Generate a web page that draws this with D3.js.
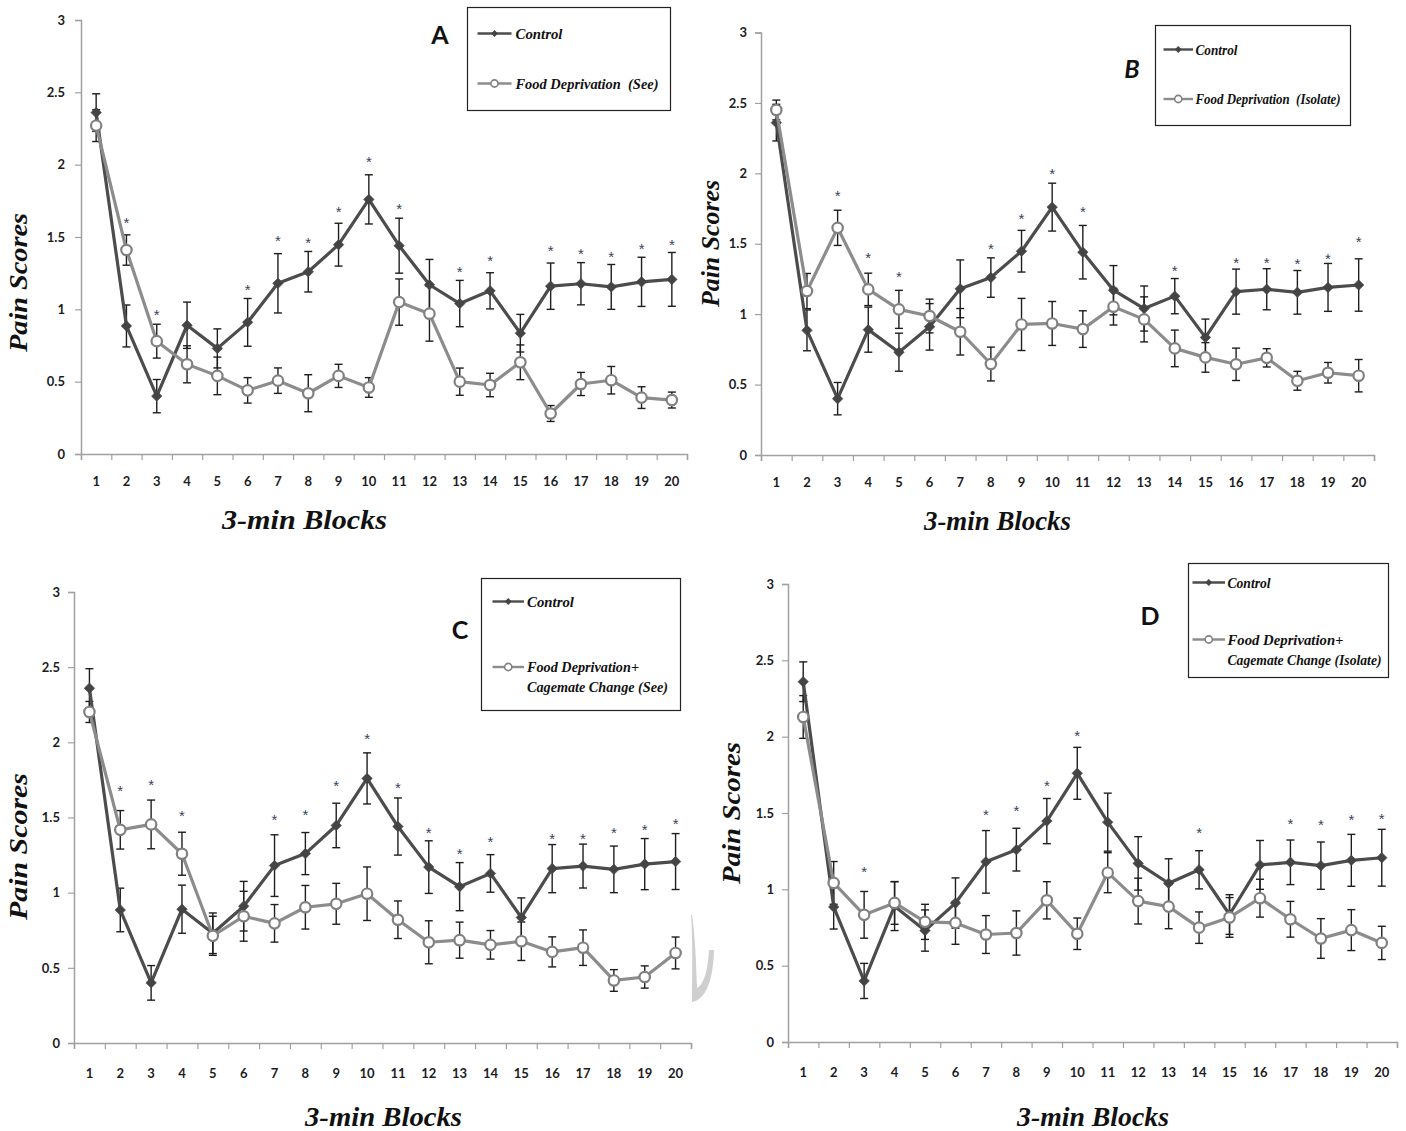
<!DOCTYPE html>
<html>
<head>
<meta charset="utf-8">
<script src="https://cdn.jsdelivr.net/npm/d3@7"></script>
<style>
  html, body { margin: 0; padding: 0; background: #fff; }
  svg { display: block; }
  .tick text { font-family: Lato, "Open Sans", sans-serif; font-weight: 700; font-size: 13px; fill: #1c1c24; }
  .legtxt { white-space: pre; }
</style>
</head>
<body>
<svg id="fig" width="1406" height="1131"></svg>
<script>
// 3-min blocks along the x axis
const blocks = [1, 2, 3, 4, 5, 6, 7, 8, 9, 10, 11, 12, 13, 14, 15, 16, 17, 18, 19, 20];
const yTicks = [0, 0.5, 1, 1.5, 2, 2.5, 3];

// Control group (same in every panel): mean pain score and SEM
const controlMean = [2.36, 0.885, 0.40, 0.89, 0.73, 0.91, 1.18, 1.26, 1.447, 1.76, 1.44, 1.17, 1.04, 1.128, 0.835, 1.16, 1.177, 1.155, 1.19, 1.207];
const controlErr  = [0.13, 0.145, 0.115, 0.16, 0.135, 0.165, 0.205, 0.14, 0.148, 0.17, 0.19, 0.175, 0.16, 0.125, 0.13, 0.16, 0.146, 0.155, 0.17, 0.186];

// A: Food Deprivation (See)
const fdSeeMean = [2.27, 1.41, 0.78, 0.62, 0.54, 0.44, 0.507, 0.42, 0.54, 0.46, 1.05, 0.97, 0.50, 0.477, 0.634, 0.28, 0.484, 0.51, 0.39, 0.373];
const fdSeeErr  = [0.11, 0.105, 0.117, 0.128, 0.13, 0.088, 0.088, 0.128, 0.08, 0.068, 0.16, 0.19, 0.094, 0.081, 0.12, 0.055, 0.08, 0.095, 0.075, 0.055];

// B: Food Deprivation (Isolate)
const fdIsoMean = [2.45, 1.164, 1.613, 1.176, 1.034, 0.987, 0.875, 0.646, 0.927, 0.934, 0.894, 1.053, 0.963, 0.757, 0.693, 0.644, 0.69, 0.527, 0.584, 0.563];
const fdIsoErr  = [0.07, 0.125, 0.125, 0.115, 0.135, 0.12, 0.165, 0.12, 0.185, 0.156, 0.13, 0.13, 0.16, 0.13, 0.105, 0.115, 0.065, 0.067, 0.073, 0.115];

// C: Food Deprivation + Cagemate Change (See)
const fdccSeeMean = [2.202, 1.418, 1.454, 1.259, 0.713, 0.843, 0.796, 0.903, 0.926, 0.993, 0.82, 0.67, 0.684, 0.653, 0.677, 0.606, 0.634, 0.416, 0.439, 0.599];
const fdccSeeErr  = [0.07, 0.128, 0.162, 0.143, 0.13, 0.166, 0.125, 0.145, 0.136, 0.178, 0.125, 0.143, 0.12, 0.095, 0.128, 0.1, 0.118, 0.072, 0.074, 0.106];

// D: Food Deprivation + Cagemate Change (Isolate)
const fdccIsoMean = [2.129, 1.042, 0.833, 0.911, 0.787, 0.78, 0.704, 0.714, 0.928, 0.709, 1.109, 0.923, 0.887, 0.749, 0.816, 0.942, 0.804, 0.678, 0.733, 0.649];
const fdccIsoErr  = [0.14, 0.14, 0.153, 0.14, 0.115, 0.14, 0.124, 0.145, 0.122, 0.103, 0.131, 0.15, 0.145, 0.103, 0.13, 0.124, 0.117, 0.13, 0.134, 0.109];

// significance markers: [block, height on the score axis]
const starsA = [[2,1.62],[3,0.988],[6,1.16],[7,1.495],[8,1.486],[9,1.70],[10,2.04],[11,1.72],[13,1.28],[14,1.36],[16,1.426],[17,1.41],[18,1.386],[19,1.44],[20,1.47]];
const starsB = [[3,1.864],[4,1.426],[5,1.289],[8,1.485],[9,1.699],[10,2.023],[11,1.75],[14,1.332],[16,1.39],[17,1.39],[18,1.38],[19,1.42],[20,1.538]];
const starsC = [[2,1.698],[3,1.741],[4,1.532],[7,1.508],[8,1.539],[9,1.731],[10,2.048],[11,1.722],[12,1.42],[13,1.278],[14,1.359],[16,1.378],[17,1.382],[18,1.42],[19,1.442],[20,1.477]];
const starsD = [[3,1.137],[7,1.513],[8,1.534],[9,1.703],[10,2.029],[14,1.392],[17,1.451],[18,1.442],[19,1.475],[20,1.482]];

const legendLabels = {
  A: ["Food Deprivation  (See)"],
  B: ["Food Deprivation  (Isolate)"],
  C: ["Food Deprivation+", "Cagemate Change (See)"],
  D: ["Food Deprivation+", "Cagemate Change (Isolate)"]
};

const panels = [
  { letter: "A", italic: false, x0: 81, x1: 687, yTop: 20, yBot: 454, lblOff: 16, xLblOff: 30,
    mean: fdSeeMean, err: fdSeeErr, stars: starsA,
    legend: { x: 467.5, y: 7.5, w: 203, h: 103, lx: 477.5, len: 34, r1: 33.5, r2: 83.5, tx: 515.5, wCtrl: 47, wFd: [143] },
    letterPos: [440, 44], yTitle: [27, 282.5, 139], xTitle: [304.5, 529, 165] },
  { letter: "B", italic: true, x0: 761, x1: 1374, yTop: 32.5, yBot: 455, lblOff: 14, xLblOff: 30,
    mean: fdIsoMean, err: fdIsoErr, stars: starsB,
    legend: { x: 1155.5, y: 25.5, w: 195, h: 100, lx: 1163.5, len: 29.5, r1: 49.5, r2: 99, tx: 1195.5, wCtrl: 42, wFd: [145] },
    letterPos: [1132, 78], yTitle: [719, 243.5, 127], xTitle: [997.5, 530, 147] },
  { letter: "C", italic: false, x0: 74, x1: 691, yTop: 592, yBot: 1043, lblOff: 14, xLblOff: 33,
    mean: fdccSeeMean, err: fdccSeeErr, stars: starsC,
    legend: { x: 481.5, y: 578.5, w: 199, h: 132, lx: 492.5, len: 31.5, r1: 601.5, r2: 667, tx: 527, wCtrl: 47, wFd: [112, 141] },
    letterPos: [460, 639], yTitle: [27, 846.5, 147], xTitle: [383.5, 1126, 157] },
  { letter: "D", italic: false, x0: 788, x1: 1397, yTop: 584, yBot: 1042, lblOff: 14, xLblOff: 33,
    mean: fdccIsoMean, err: fdccIsoErr, stars: starsD,
    legend: { x: 1188.5, y: 563.5, w: 200, h: 114, lx: 1192.5, len: 32.5, r1: 582.5, r2: 639.5, tx: 1227.5, wCtrl: 43, wFd: [116, 154] },
    letterPos: [1150, 625], yTitle: [740, 813, 142], xTitle: [1093, 1126, 152] }
];

const ctrlColor = "#4c4c4c";
const fdColor = "#8c8c8c";
const serif = "'Liberation Serif', 'Times New Roman', serif";
const svg = d3.select("#fig");

// faint crescent mark between panels C and D
svg.append("path")
  .attr("d", "M691,915 C693,940 692,975 692,1002 C704,1000 713,985 714,950 L709,950 C708,972 703,985 697,988 C696,960 695,935 692,915 Z")
  .attr("fill", "#cfcfcf");

panels.forEach(p => {
  const g = svg.append("g");
  const x = d3.scaleBand().domain(blocks).range([p.x0, p.x1]).padding(0);
  const xEdge = d3.scaleLinear().domain([0, blocks.length]).range([p.x0, p.x1]);
  const y = d3.scaleLinear().domain([0, 3]).range([p.yBot, p.yTop]);
  const cx = d => x(d) + x.bandwidth() / 2;

  // y axis
  const ya = g.append("g").attr("transform", `translate(${p.x0},0)`)
    .call(d3.axisLeft(y).tickValues(yTicks).tickSize(6).tickPadding(p.lblOff - 6).tickFormat(d => String(d)));
  ya.select(".domain").attr("stroke", "#a0a0a0").attr("stroke-width", 1.5);
  ya.selectAll(".tick line").attr("stroke", "#a0a0a0").attr("stroke-width", 1.2);

  // x axis: tick marks at block edges, labels at block centres
  const xe = g.append("g").attr("transform", `translate(0,${p.yBot})`)
    .call(d3.axisBottom(xEdge).tickValues(d3.range(0, blocks.length + 1)).tickSize(6).tickFormat(""));
  xe.select(".domain").attr("stroke", "#a0a0a0").attr("stroke-width", 1.5);
  xe.selectAll(".tick line").attr("stroke", "#a0a0a0").attr("stroke-width", 1.2);
  const xl = g.append("g").attr("transform", `translate(0,${p.yBot})`)
    .call(d3.axisBottom(x).tickSize(0).tickPadding(p.xLblOff - 7));
  xl.select(".domain").remove();

  const series = [
    { mean: controlMean, err: controlErr, color: ctrlColor, kind: "diamond" },
    { mean: p.mean, err: p.err, color: fdColor, kind: "circle" }
  ];

  // error bars
  series.forEach(s => {
    const eb = g.append("g").attr("stroke", "#1e1e1e").attr("stroke-width", 1.4).attr("fill", "none");
    blocks.forEach((b, i) => {
      const xc = cx(b), hi = y(s.mean[i] + s.err[i]), lo = y(s.mean[i] - s.err[i]);
      eb.append("line").attr("x1", xc).attr("x2", xc).attr("y1", hi).attr("y2", lo);
      eb.append("line").attr("x1", xc - 4).attr("x2", xc + 4).attr("y1", hi).attr("y2", hi);
      eb.append("line").attr("x1", xc - 4).attr("x2", xc + 4).attr("y1", lo).attr("y2", lo);
    });
  });

  // lines and markers
  series.forEach(s => {
    const line = d3.line().x((d, i) => cx(blocks[i])).y(d => y(d));
    g.append("path").datum(s.mean).attr("d", line)
      .attr("fill", "none").attr("stroke", s.color).attr("stroke-width", 3.2).attr("stroke-linejoin", "round");
    if (s.kind === "diamond") {
      g.append("g").selectAll("path").data(s.mean).join("path")
        .attr("d", d3.symbol(d3.symbolDiamond2, 70))
        .attr("transform", (d, i) => `translate(${cx(blocks[i])},${y(d)})`)
        .attr("fill", "#444").attr("stroke", "#444").attr("stroke-width", 0.6);
    } else {
      g.append("g").selectAll("circle").data(s.mean).join("circle")
        .attr("cx", (d, i) => cx(blocks[i])).attr("cy", d => y(d)).attr("r", 5.2)
        .attr("fill", "#fff").attr("stroke", "#808080").attr("stroke-width", 2.2);
    }
  });

  // significance asterisks
  g.append("g").selectAll("text").data(p.stars).join("text")
    .attr("x", d => cx(d[0])).attr("y", d => y(d[1]) + 8.5)
    .attr("text-anchor", "middle")
    .attr("font-family", "'Liberation Sans', Arial, sans-serif").attr("font-size", 15)
    .attr("fill", "#3b3f5a").text("*");

  // axis titles
  g.append("text")
    .attr("transform", `translate(${p.yTitle[0]},${p.yTitle[1]}) rotate(-90)`)
    .attr("text-anchor", "middle")
    .attr("font-family", serif).attr("font-style", "italic").attr("font-weight", 700).attr("font-size", 26)
    .attr("textLength", p.yTitle[2]).attr("lengthAdjust", "spacingAndGlyphs")
    .attr("fill", "#111").text("Pain Scores");
  g.append("text")
    .attr("x", p.xTitle[0]).attr("y", p.xTitle[1]).attr("text-anchor", "middle")
    .attr("font-family", serif).attr("font-style", "italic").attr("font-weight", 700).attr("font-size", 27)
    .attr("textLength", p.xTitle[2]).attr("lengthAdjust", "spacingAndGlyphs")
    .attr("fill", "#111").text("3-min Blocks");

  // panel letter
  g.append("text")
    .attr("x", p.letterPos[0]).attr("y", p.letterPos[1]).attr("text-anchor", "middle")
    .attr("font-family", "Lato, 'Open Sans', sans-serif").attr("font-weight", 700)
    .attr("font-style", p.italic ? "italic" : "normal")
    .attr("font-size", 25).attr("fill", "#111").text(p.letter);

  // legend
  const L = p.legend;
  const lg = g.append("g");
  lg.append("rect").attr("x", L.x).attr("y", L.y).attr("width", L.w).attr("height", L.h)
    .attr("fill", "#fff").attr("stroke", "#222").attr("stroke-width", 1.2);
  const legendRows = [
    { row: L.r1, color: ctrlColor, kind: "diamond", text: ["Control"], widths: [L.wCtrl] },
    { row: L.r2, color: fdColor, kind: "circle", text: legendLabels[p.letter], widths: L.wFd }
  ];
  legendRows.forEach(r => {
    const mid = L.lx + L.len / 2;
    lg.append("line").attr("x1", L.lx).attr("x2", L.lx + L.len).attr("y1", r.row).attr("y2", r.row)
      .attr("stroke", r.color).attr("stroke-width", 2.4);
    if (r.kind === "diamond") {
      lg.append("path").attr("d", d3.symbol(d3.symbolDiamond2, 30))
        .attr("transform", `translate(${mid},${r.row})`).attr("fill", "#444");
    } else {
      lg.append("circle").attr("cx", mid).attr("cy", r.row).attr("r", 3.6)
        .attr("fill", "#fff").attr("stroke", "#808080").attr("stroke-width", 1.6);
    }
    r.text.forEach((t, k) => {
      lg.append("text").attr("class", "legtxt").attr("x", L.tx).attr("y", r.row + 5 + k * 20)
        .attr("font-family", serif).attr("font-style", "italic").attr("font-weight", 700).attr("font-size", 15.5)
        .attr("textLength", r.widths[k]).attr("lengthAdjust", "spacingAndGlyphs")
        .attr("fill", "#111").text(t);
    });
  });
});
</script>
</body>
</html>
